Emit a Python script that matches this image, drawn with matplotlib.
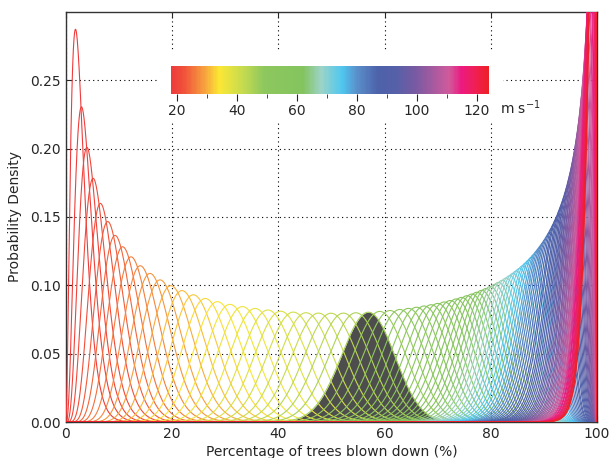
import math
import numpy as np
import matplotlib
matplotlib.use("Agg")
import matplotlib.pyplot as plt
from matplotlib.colors import LinearSegmentedColormap, Normalize
from matplotlib.colorbar import ColorbarBase
from matplotlib.patches import Rectangle

# Wind speeds (m/s), one damage distribution per speed
wind_speeds = list(range(18, 125))

# Mean percentage of trees blown down at each wind speed
mean_damage = [
    2.75, 3.85, 4.85, 6.0, 7.35, 8.7, 10.05, 11.45, 13.0, 14.7,
    16.5, 18.35, 20.35, 22.4, 24.5, 26.7, 28.95, 31.25, 33.55, 35.9,
    38.25, 40.6, 42.95, 45.3, 47.6, 49.9, 52.2, 54.5, 56.8, 58.9,
    60.8, 62.6, 64.2, 65.7, 67.1, 68.4, 69.6, 70.8, 71.9, 73.0,
    74.0, 75.0, 75.9, 76.8, 77.7, 78.5, 79.3, 80.1, 80.8, 81.5,
    82.2, 82.9, 83.5, 84.1, 84.7, 85.3, 85.9, 86.4, 86.9, 87.4,
    87.9, 88.3, 88.7, 89.1, 89.5, 89.9, 90.3, 90.7, 91.1, 91.5,
    91.8, 92.2, 92.5, 92.8, 93.1, 93.4, 93.7, 94.0, 94.25, 94.5,
    94.75, 95.0, 95.2, 95.45, 95.65, 95.85, 96.05, 96.25, 96.45, 96.6,
    96.8, 96.95, 97.1, 97.25, 97.4, 97.5, 97.65, 97.75, 97.9, 98.0,
    98.1, 98.2, 98.3, 98.4, 98.45, 98.55, 98.6,
]

# Beta precision parameter shared by all distributions
precision = 100.0

# Wind speed whose distribution is shaded
highlight_speed = 46

# Colour ramp for wind speed
ramp_positions = [0.0, 0.038, 0.104, 0.151, 0.226, 0.292, 0.415, 0.472,
                  0.538, 0.585, 0.651, 0.708, 0.774, 0.840, 0.877, 0.915,
                  0.953, 1.0]
ramp_colors = ["#ef3b3c", "#f0503a", "#f7a23e", "#fbe734", "#c5db50",
               "#8dc75e", "#84c45e", "#9cd3c8", "#4fc7f0", "#5a8fcb",
               "#4d62aa", "#5560a8", "#7b5aa2", "#b35a9e", "#d05a9c",
               "#ec1a7f", "#ef1f5a", "#ee2026"]

x_ticks = [0, 20, 40, 60, 80, 100]
y_ticks = [0.00, 0.05, 0.10, 0.15, 0.20, 0.25]
cbar_ticks = [20, 40, 60, 80, 100, 120]
cbar_minor = [30, 50, 70, 90, 110]

TEXT = "#262626"


def beta_density(x_pct, mean_pct, phi):
    m = mean_pct / 100.0
    a, b = m * phi, (1.0 - m) * phi
    x = np.clip(x_pct / 100.0, 1e-12, 1 - 1e-12)
    logc = math.lgamma(a + b) - math.lgamma(a) - math.lgamma(b)
    return np.exp((a - 1) * np.log(x) + (b - 1) * np.log1p(-x) + logc) / 100.0


cmap = LinearSegmentedColormap.from_list(
    "wind", list(zip(ramp_positions, ramp_colors)))
norm = Normalize(vmin=wind_speeds[0], vmax=wind_speeds[-1])

W, H = 609, 458
fig = plt.figure(figsize=(W / 100, H / 100), dpi=100)
ax = fig.add_axes([66 / W, 36 / H, 531 / W, 410 / H])

x = np.linspace(0, 100, 6001)
for v, mu in zip(wind_speeds, mean_damage):
    y = beta_density(x, mu, precision)
    ax.plot(x, y, color=cmap(norm(v)), lw=0.8, zorder=3)
    if v == highlight_speed:
        ax.fill_between(x, 0, y, color="#4d4d4d", lw=0, zorder=2)

ax.set_xlim(0, 100)
ax.set_ylim(0, 0.30)
ax.set_xticks(x_ticks)
ax.set_yticks(y_ticks)
ax.set_yticklabels([f"{t:.2f}" for t in y_ticks])
ax.tick_params(direction="in", top=True, right=True, length=4,
               labelsize=10, colors=TEXT, labelcolor=TEXT)
ax.grid(True, color="black", linestyle=(0, (1, 3)), lw=0.8, zorder=1)
for s in ax.spines.values():
    s.set_color("#333333")
    s.set_linewidth(1.0)
ax.set_xlabel("Percentage of trees blown down (%)", fontsize=10, color=TEXT,
              labelpad=3)
ax.set_ylabel("Probability Density", fontsize=10, color=TEXT, labelpad=6)

# white panel behind the colour key
fig.patches.append(Rectangle((158 / W, (H - 122) / H), 345 / W, 70 / H,
                             transform=fig.transFigure, facecolor="white",
                             edgecolor="none", zorder=1))

cax = fig.add_axes([171 / W, (H - 94) / H, 318 / W, 28 / H])
cax.set_zorder(2)
cb = ColorbarBase(cax, cmap=cmap, norm=norm, orientation="horizontal")
cb.outline.set_visible(False)
cb.set_ticks(cbar_ticks)
cax.set_xticks(cbar_minor, minor=True)
cax.tick_params(which="major", direction="out", length=5, labelsize=10,
                colors=TEXT, pad=2)
cax.tick_params(which="minor", direction="out", length=3, colors=TEXT)
fig.text(500 / W, (H - 108) / H, "m s$^{-1}$", fontsize=10, color=TEXT,
         va="center", ha="left")

fig.savefig("out.png", dpi=100)
